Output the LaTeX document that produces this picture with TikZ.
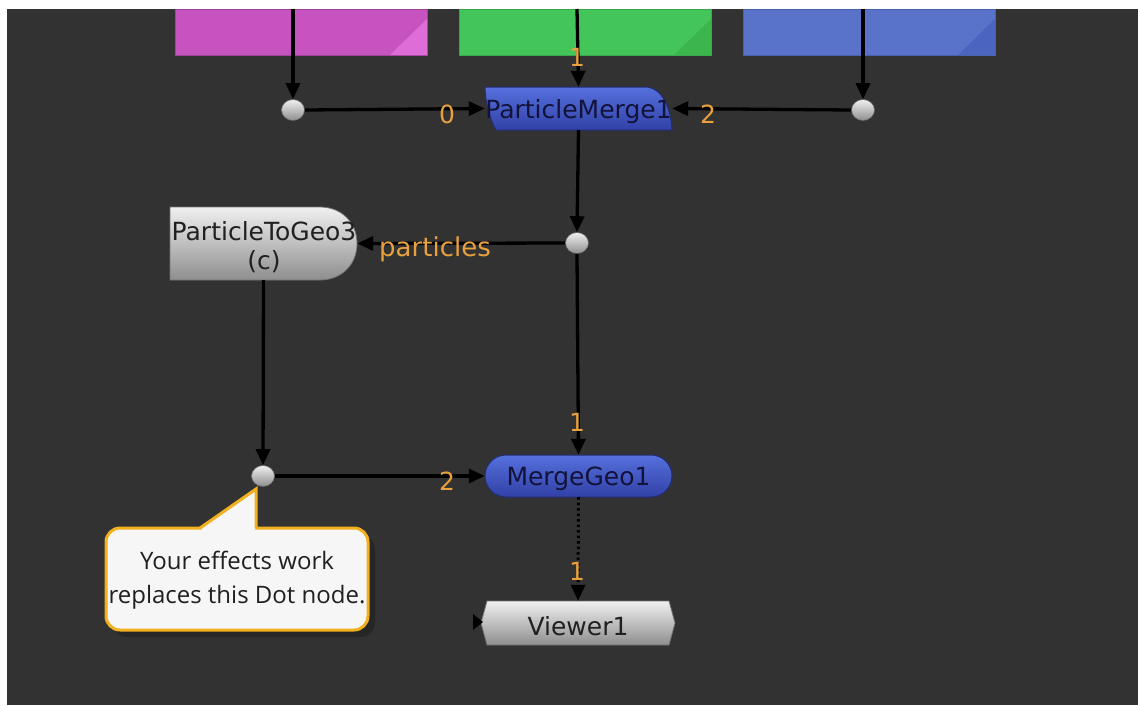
\documentclass[tikz,border=0pt]{standalone}
\usepackage{fontspec}
\setmainfont{DejaVu Sans}
\newfontfamily\calloutfont{Open Sans}
\usetikzlibrary{arrows.meta,shapes.geometric}
\definecolor{bg}{HTML}{323232}
\definecolor{mag}{HTML}{C653C0}
\definecolor{magl}{HTML}{DE6DD8}
\definecolor{grn}{HTML}{44C55A}
\definecolor{grnd}{HTML}{3CB64C}
\definecolor{blu}{HTML}{5873C9}
\definecolor{blud}{HTML}{4B64C0}
\definecolor{nodeblueT}{HTML}{5570DD}
\definecolor{nodeblueB}{HTML}{3141A6}
\definecolor{navy}{HTML}{12123A}
\definecolor{orng}{HTML}{E9A13E}
\definecolor{greyT}{HTML}{F0F0F0}
\definecolor{greyB}{HTML}{8E8E8E}
\definecolor{txtd}{HTML}{202020}
\definecolor{callborder}{HTML}{F2B01E}
\definecolor{callfill}{HTML}{F6F6F6}
\definecolor{shadowc}{HTML}{262626}
\tikzset{
  colbox/.style={rectangle, minimum width=252pt, minimum height=46pt, inner sep=0pt},
  conn/.style={draw=black, line width=3.3pt, -{Triangle[length=16pt,width=14pt]}},
  dotn/.style={ellipse, minimum width=23pt, minimum height=21pt, inner sep=0pt,
     top color=greyT, bottom color=greyB, draw=black!60, line width=0.6pt},
  lbl/.style={text=orng, font=\fontsize{25}{29}\selectfont, inner sep=0pt},
  ntext/.style={rectangle, inner sep=0pt, font=\fontsize{25}{29}\selectfont},
  bluefill/.style={top color=nodeblueT, bottom color=nodeblueB, draw=nodeblueB!70!black, line width=1pt},
  greyfill/.style={top color=greyT, bottom color=greyB, draw=black!55, line width=0.8pt},
}
\begin{document}
\begin{tikzpicture}[x=1pt,y=-1pt]
\useasboundingbox (0,0) rectangle (1138,705);
\fill[white] (0,0) rectangle (1138,705);
\fill[bg] (7,9) rectangle (1138,705);

% read nodes (cropped at top)
\node[colbox, fill=mag, draw=mag!80!black, line width=0.8pt] (rmag) at (301,32) {};
\fill[magl] (390,55) -- (427,55) -- (427,19) -- cycle;
\node[colbox, fill=grn, draw=grn!85!black, line width=0.8pt] (rgrn) at (585,32) {};
\fill[grnd] (674,55) -- (711,55) -- (711,19) -- cycle;
\node[colbox, fill=blu, draw=blu!85!black, line width=0.8pt] (rblu) at (869,32) {};
\fill[blud] (958,55) -- (995,55) -- (995,19) -- cycle;
\fill[white] (0,0) rectangle (1138,9);

% ParticleMerge1 shape
\path[bluefill] (485,87) -- (645,87) .. controls (662,87) and (671,108) .. (672,130)
   -- (496,130) .. controls (489,118) and (485,100) .. (485,87) -- cycle;
\node[ntext, text=navy, minimum width=187pt, minimum height=43pt] (pm) at (578.5,108.5) {};
\node[ntext, text=navy] (pmt) at (578.5,112) {ParticleMerge1};

% ParticleToGeo3 shape
\path[greyfill] (170,207) -- (320,207) .. controls (341,207) and (357,222) .. (357,243.5)
   .. controls (357,265) and (341,280) .. (320,280) -- (170,280) -- cycle;
\node[ntext, text=txtd, align=center, minimum width=187pt, minimum height=73pt] (p2g) at (263.5,243.5) {};
\node[ntext, text=txtd, align=center] (p2gt) at (264,247)
   {ParticleToGeo3\\(c)};

% MergeGeo1 pill
\path[bluefill, rounded corners=21pt] (485,455) rectangle (672,497);
\node[ntext, text=navy, minimum width=187pt, minimum height=42pt] (mg) at (578.5,476) {};
\node[ntext, text=navy] (mgt) at (578.5,478.5) {MergeGeo1};

% Viewer1
\path[greyfill] (487,601) -- (669,601) -- (675,623) -- (669,645) -- (487,645) -- (481,623) -- cycle;
\node[ntext, text=txtd, minimum width=194pt, minimum height=44pt] (vw) at (578,623) {};
\node[ntext, text=txtd] (vwt) at (578,626) {Viewer1};
\fill[black] (473,614) -- (483,622) -- (473,630) -- cycle;

% dots
\node[dotn] (d1) at (293,110) {};
\node[dotn] (d2) at (863,110) {};
\node[dotn] (d3) at (577,243) {};
\node[dotn] (d4) at (263,476) {};

% callout
\path[fill=shadowc, rounded corners=14pt] (113,535) rectangle (375,637);
\path[fill=callfill, draw=callborder, line width=3pt, rounded corners=14pt]
  (106,528) rectangle (368,630);
\fill[callfill] (202,531) -- (202,525) -- (255,525) -- (255,531) -- cycle;
\path[fill=callfill, draw=callborder, line width=3pt, line join=miter]
  (200,528) -- (256,489) -- (256,528);
\node[inner sep=0pt, align=center, text=txtd, font=\calloutfont\fontsize{24}{34}\selectfont] (call) at (237,580)
  {Your effects work\\replaces this Dot node.};

% connectors
\coordinate (t1) at (293,9);
\coordinate (t2) at (577,9);
\coordinate (t3) at (863,9);
\draw[conn] (t1) -- (d1.north);
\draw[conn] (t2) -- (pm.north);
\draw[conn] (t3) -- (d2.north);
\draw[conn] (d1.east) -- (pm.west);
\draw[conn] (d2.west) -- (pm.east);
\draw[conn] (pm.south) -- (d3.north);
\draw[conn] (d3.west) -- (p2g.east);
\draw[conn] (d3.south) -- (mg.north);
\draw[conn] (p2g.south) -- (d4.north);
\draw[conn] (d4.east) -- (mg.west);
\draw[draw=black, line width=3pt, dash pattern=on 2.5pt off 3pt, -{Triangle[length=16pt,width=14pt]}] (mg.south) -- (vw.north);

% labels
\node[lbl] (l1) at (577,57) {1};
\node[lbl] (l0) at (447,114) {0};
\node[lbl] (l2) at (708,114) {2};
\node[lbl, font=\fontsize{26}{30}\selectfont] (lp) at (435,249) {particles};
\node[lbl] (l3) at (577,422) {1};
\node[lbl] (l4) at (447,481) {2};
\node[lbl] (l5) at (577,571) {1};
\end{tikzpicture}
\end{document}
